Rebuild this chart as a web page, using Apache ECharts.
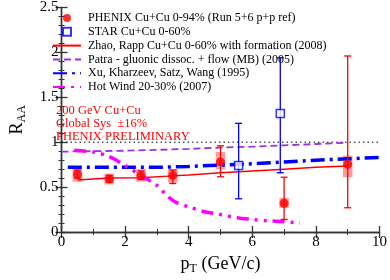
<!DOCTYPE html>
<html><head><meta charset="utf-8">
<script src="https://cdn.jsdelivr.net/npm/echarts@6/dist/echarts.min.js"></script>
<style>html,body{margin:0;padding:0;background:#fff}#c{width:390px;height:280px}</style>
</head><body><div id="c"></div>
<script>
// PHENIX Cu+Cu 0-94%
const phenixX = [0.5, 1.5, 2.5, 3.5, 5, 7, 9];
const phenixY = [0.64, 0.59, 0.63, 0.63, 0.78, 0.32, 0.755];
const phenixStatLo = [0.60, 0.555, 0.585, 0.54, 0.615, 0.14, 0.27];
const phenixStatHi = [0.69, 0.63, 0.68, 0.69, 0.96, 0.61, 1.96];
const phenixSysLo = [0.56, 0.53, 0.56, 0.55, 0.70, 0.27, 0.61];
const phenixSysHi = [0.71, 0.65, 0.70, 0.70, 0.89, 0.38, 0.85];
// STAR Cu+Cu 0-60%
const starX = [5.57, 6.88];
const starY = [0.74, 1.32];
const starLo = [0.37, 0.66];
const starHi = [1.21, 1.94];
// Theory curves
const zhaoX = [0.5, 1.5, 2.5, 3.5, 4, 5, 6, 7, 8, 9];
const zhaoY = [0.58, 0.60, 0.605, 0.625, 0.635, 0.66, 0.68, 0.70, 0.72, 0.735];
const patraX = [0, 1, 2, 3, 4, 5, 6, 7, 8, 9];
const patraY = [0.895, 0.90, 0.905, 0.915, 0.925, 0.94, 0.95, 0.965, 0.98, 0.995];
const xuX = [0.2, 1, 2, 3, 4, 5, 6, 7, 8, 9, 10];
const xuY = [0.72, 0.72, 0.72, 0.72, 0.73, 0.745, 0.76, 0.78, 0.80, 0.815, 0.83];
const hotX = [0.4, 1, 1.5, 2, 2.5, 3, 3.3, 3.6, 4, 4.5, 5, 5.5, 6, 6.5, 7, 7.5];
const hotY = [0.91, 0.89, 0.84, 0.74, 0.63, 0.52, 0.41, 0.33, 0.28, 0.225, 0.195, 0.16, 0.14, 0.125, 0.115, 0.10];
// axes
const xTicks = [0, 2, 4, 6, 8, 10];
const yTicks = [0, 0.5, 1, 1.5, 2, 2.5];
const legendNames = ['PHENIX Cu+Cu 0-94% (Run 5+6 p+p ref)', 'STAR Cu+Cu 0-60%',
  'Zhao, Rapp Cu+Cu 0-60% with formation (2008)', 'Patra - gluonic dissoc. + flow (MB) (2005)',
  'Xu, Kharzeev, Satz, Wang (1995)', 'Hot Wind 20-30% (2007)'];
const noteLines = ['200 GeV Cu+Cu', 'Global Sys  \u00b116%', 'PHENIX PRELIMINARY'];

const zip = (a, b) => a.map((v, i) => [v, b[i]]);
const serif = 'Liberation Serif';
const RED = '#ff0000', BLUE = '#0000ff', PURPLE = '#9b30e0', MAG = '#ff00ff';

function errBar(color) {
  return function (params, api) {
    const x = api.value(0);
    const lo = api.coord([x, api.value(1)]);
    const hi = api.coord([x, api.value(2)]);
    const w = 3.5;
    const st = { stroke: color, lineWidth: 1.3 };
    return { type: 'group', children: [
      { type: 'line', shape: { x1: lo[0], y1: lo[1], x2: hi[0], y2: hi[1] }, style: st },
      { type: 'line', shape: { x1: lo[0] - w, y1: lo[1], x2: lo[0] + w, y2: lo[1] }, style: st },
      { type: 'line', shape: { x1: hi[0] - w, y1: hi[1], x2: hi[0] + w, y2: hi[1] }, style: st }
    ]};
  };
}
function sysBox(params, api) {
  const x = api.value(0);
  const a = api.coord([x - 0.15, api.value(2)]);
  const b = api.coord([x + 0.15, api.value(1)]);
  return { type: 'rect', shape: { x: a[0], y: a[1], width: b[0] - a[0], height: b[1] - a[1] },
    style: { fill: 'rgba(255,30,30,0.45)' } };
}

const axisCommon = {
  type: 'value', min: 0,
  axisLine: { show: true, lineStyle: { color: '#333', width: 1.4 } },
  axisTick: { show: true, inside: true, length: 6, lineStyle: { color: '#333', width: 1.3 } },
  minorTick: { show: true, length: 3, lineStyle: { color: '#333', width: 1 } },
  splitLine: { show: false }
};
const hideSym = { color: 'rgba(0,0,0,0)', borderWidth: 0, opacity: 0 };

const chart = echarts.init(document.getElementById('c'), null, { renderer: 'canvas' });
chart.setOption({
  animation: false,
  backgroundColor: '#fff',
  grid: { left: 45, right: 8, top: 6, bottom: 37 },
  xAxis: [
    Object.assign({}, axisCommon, { max: 10, interval: 2, minorTick: Object.assign({}, axisCommon.minorTick, { splitNumber: 2 }),
      axisLabel: { color: '#000', fontFamily: serif, fontSize: 15, margin: 3,
        formatter: v => xTicks.includes(v) ? String(v) : '' },
      name: 'p{sub|T} (GeV/c)', nameLocation: 'middle', nameGap: 22,
      nameTextStyle: { color: '#000', fontFamily: serif, fontSize: 18,
        rich: { sub: { fontFamily: serif, fontSize: 12, color: '#000', padding: [9, 0, 0, 0] } } } }),
    Object.assign({}, axisCommon, { position: 'top', max: 10, interval: 2,
      minorTick: Object.assign({}, axisCommon.minorTick, { splitNumber: 2 }), axisLabel: { show: false } })
  ],
  yAxis: [
    Object.assign({}, axisCommon, { max: 2.5, interval: 0.5, minorTick: Object.assign({}, axisCommon.minorTick, { splitNumber: 5 }),
      axisLabel: { color: '#000', fontFamily: serif, fontSize: 15, margin: 3,
        formatter: v => yTicks.includes(v) ? String(v) : '' },
      name: 'R{sub|AA}', nameLocation: 'middle', nameGap: 34, nameRotate: 90,
      nameTextStyle: { color: '#000', fontFamily: serif, fontSize: 18,
        rich: { sub: { fontFamily: serif, fontSize: 12, color: '#000', padding: [9, 0, 0, 0] } } } }),
    Object.assign({}, axisCommon, { position: 'right', max: 2.5, interval: 0.5,
      minorTick: Object.assign({}, axisCommon.minorTick, { splitNumber: 5 }), axisLabel: { show: false } })
  ],
  legend: {
    data: [
      { name: legendNames[0], icon: 'circle' },
      { name: legendNames[1], icon: 'path://M0,0H10V10H0Z' },
      { name: legendNames[2], itemStyle: hideSym },
      { name: legendNames[3], itemStyle: hideSym },
      { name: legendNames[4], itemStyle: hideSym },
      { name: legendNames[5], itemStyle: hideSym }
    ],
    orient: 'vertical', left: 52, top: 12, padding: 0,
    itemWidth: 28, itemHeight: 8, itemGap: 1.8, symbolKeepAspect: true,
    textStyle: { color: '#000', fontFamily: serif, fontSize: 12, lineHeight: 12, padding: [0, 0, 0, 2] },
    selectedMode: false
  },
  graphic: noteLines.map((t, i) => ({
    type: 'text', left: 56, top: 104 + i * 13,
    style: { text: t, fill: RED, font: '12.5px "Liberation Serif"' }
  })),
  series: [
    { type: 'line', data: [[0, 1], [10, 1]], symbol: 'none', silent: true,
      lineStyle: { color: '#000', width: 1, type: [1.5, 3] }, z: 1 },
    { type: 'custom', name: 'phenixSys', data: phenixX.map((x, i) => [x, phenixSysLo[i], phenixSysHi[i]]),
      renderItem: sysBox, z: 2 },
    { type: 'line', name: legendNames[2], data: zip(zhaoX, zhaoY), symbol: 'none', smooth: false,
      lineStyle: { color: RED, width: 1.5 }, itemStyle: { color: RED }, z: 3 },
    { type: 'line', name: legendNames[3], data: zip(patraX, patraY), symbol: 'none',
      lineStyle: { color: PURPLE, width: 1.8, type: [7, 4] }, itemStyle: { color: PURPLE }, z: 3 },
    { type: 'line', name: legendNames[4], data: zip(xuX, xuY), symbol: 'none',
      lineStyle: { color: BLUE, width: 3.5, type: [14, 5, 3, 5] }, itemStyle: { color: BLUE }, z: 3 },
    { type: 'line', name: legendNames[5], data: zip(hotX, hotY), symbol: 'none', smooth: 0.3,
      lineStyle: { color: MAG, width: 3.5, type: [12, 6, 3, 6, 3, 6] }, itemStyle: { color: MAG }, z: 3 },
    { type: 'custom', name: 'phenixStat', data: phenixX.map((x, i) => [x, phenixStatLo[i], phenixStatHi[i]]),
      renderItem: errBar(RED), z: 4 },
    { type: 'custom', name: 'starErr', data: starX.map((x, i) => [x, starLo[i], starHi[i]]),
      renderItem: errBar(BLUE), z: 4 },
    { type: 'scatter', name: legendNames[0], data: zip(phenixX, phenixY), symbol: 'circle', symbolSize: 9,
      itemStyle: { color: RED }, z: 5 },
    { type: 'scatter', name: legendNames[1], data: zip(starX, starY), symbol: 'rect', symbolSize: 8,
      itemStyle: { color: '#fff', borderColor: BLUE, borderWidth: 1.5 }, z: 5 }
  ]
});
</script></body></html>
